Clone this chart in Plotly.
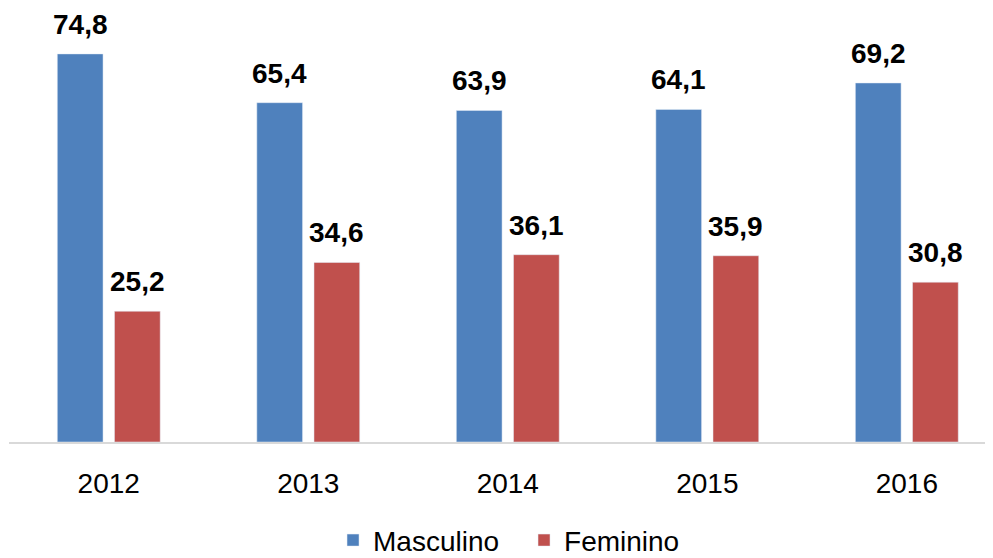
import plotly.graph_objects as go

years = ["2012", "2013", "2014", "2015", "2016"]
masculino = [74.8, 65.4, 63.9, 64.1, 69.2]
feminino = [25.2, 34.6, 36.1, 35.9, 30.8]

BLUE = "#4F81BD"
RED = "#C0504D"
FONT = "Liberation Sans, Arial, sans-serif"


def fmt(v):
    return f"{v:.1f}".replace(".", ",")


fig = go.Figure()
fig.add_trace(go.Bar(x=years, y=masculino, name="Masculino", marker_color=BLUE))
fig.add_trace(go.Bar(x=years, y=feminino, name="Feminino", marker_color=RED))

# value labels above bars (x given as category index)
for series, shift in [(masculino, -28.6), (feminino, 28.6)]:
    for i, v in enumerate(series):
        fig.add_annotation(
            x=i, y=v, xref="x", yref="y",
            text=f"<b>{fmt(v)}</b>",
            showarrow=False, yanchor="bottom",
            xshift=shift, yshift=12,
            font=dict(family=FONT, size=28, color="black"),
        )

# page body adds 8px margin, so the figure is a bit smaller than the window
fig.update_layout(
    width=985, height=550,
    margin=dict(l=1, r=0, t=0, b=115.5, autoexpand=False),
    paper_bgcolor="white", plot_bgcolor="white",
    barmode="group", bargap=0.427, bargroupgap=0.2,
    font=dict(family=FONT, size=28, color="black"),
    showlegend=True,
    legend=dict(
        orientation="h", x=0.5234, xanchor="center",
        y=-0.2267, yanchor="middle", entrywidth=146,
        font=dict(family=FONT, size=28, color="black"),
    ),
)
fig.update_xaxes(
    type="category", range=[-0.5, 4.432],
    showline=True, linecolor="#D9D9D9", linewidth=1.5,
    showgrid=False, ticks="outside", ticklen=16, tickcolor="rgba(0,0,0,0)",
    tickfont=dict(family=FONT, size=28, color="black"),
)
fig.update_yaxes(range=[0, 83.65], showticklabels=False, showgrid=False,
                 zeroline=False, showline=False)

fig.write_html("out.html")
